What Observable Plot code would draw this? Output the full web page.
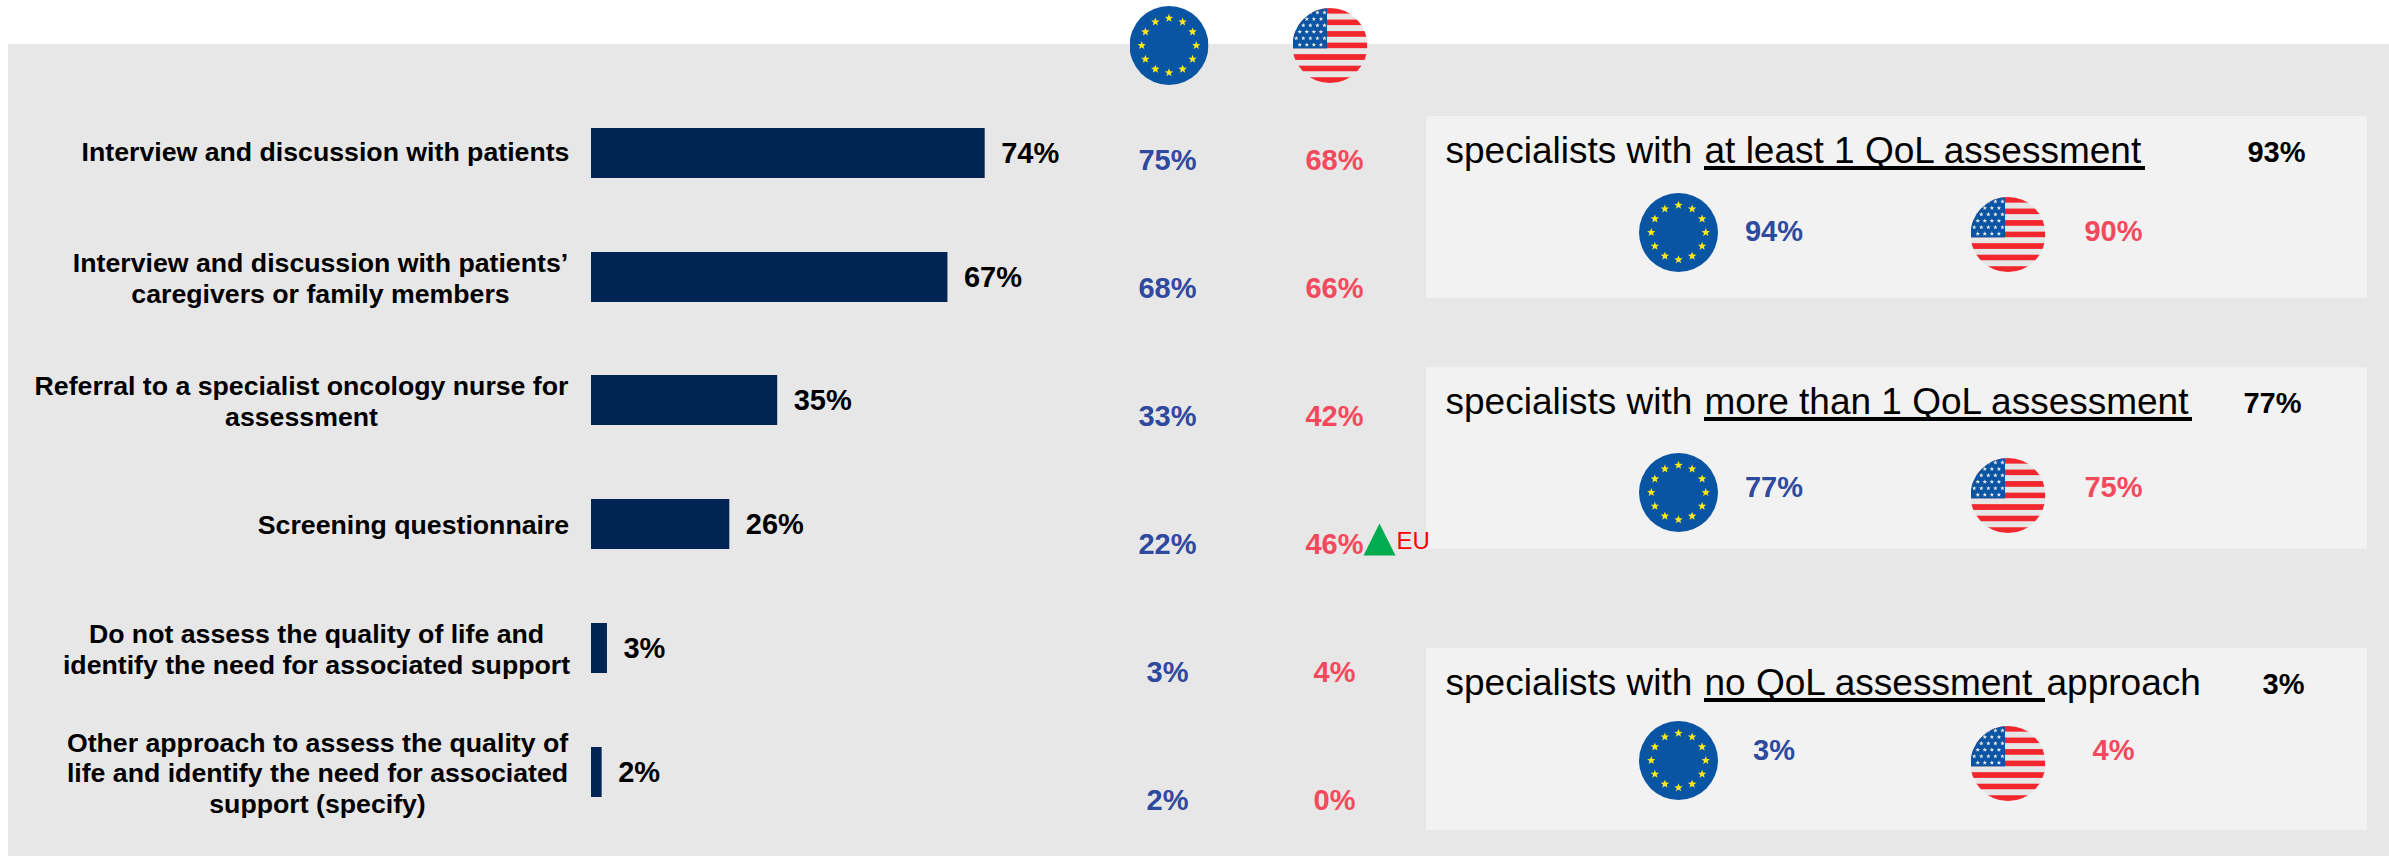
<!DOCTYPE html>
<html><head><meta charset="utf-8">
<script src="https://cdn.jsdelivr.net/npm/d3@7"></script>
<script src="https://cdn.jsdelivr.net/npm/@observablehq/plot@0.6"></script>
<style>html,body{margin:0;padding:0;background:#fff}svg{display:block}</style>
</head><body><div id="chart"></div>
<script>
// ---- data ----
const categories = [
  "Interview and discussion with patients",
  "Interview and discussion with patients’\ncaregivers or family members",
  "Referral to a specialist oncology nurse for\nassessment",
  "Screening questionnaire",
  "Do not assess the quality of life and\nidentify the need for associated support",
  "Other approach to assess the quality of\nlife and identify the need for associated\nsupport (specify)"
];
const overall = [74, 67, 35, 26, 3, 2];
const euValues = [75, 68, 33, 22, 3, 2];
const usValues = [68, 66, 42, 46, 4, 0];
const panelPrefixes = ["specialists with ", "specialists with ", "specialists with "];
const panelEmphasis = ["at least 1 QoL assessment", "more than 1 QoL assessment", "no QoL assessment "];
const panelSuffixes = ["", "", "approach"];
const panelOverall = [93, 77, 3];
const panelEU = [94, 77, 3];
const panelUS = [90, 75, 4];

// ---- layout (pixels, independent of the data) ----
const W = 2389, H = 856;
const pxPerPct = 5.32, barX0 = 591;
const barCenterY = [153, 277, 400, 524, 648, 772];
const barHalf = 25;
const labelCenterX = [325, 320, 301, 413, 316, 317];
const labelY = [151, 277, 400, 524, 648, 772];
const columnX = {eu: 1167, us: 1334};
const columnY = [160, 288, 416, 544, 672, 800];
const panelBox = [[116, 298], [367, 549], [648, 830]];
const panelX = [1426, 2367];
const panelTitleY = [151, 402, 683];
const panelUnder = [[1704, 2145, 166], [1704, 2192, 417], [1704, 2045, 698]];
const panelSuffixX = [0, 0, 2046];
const panelOverallX = [2276, 2272, 2283];
const panelFlagY = [232, 492, 760];
const panelFlagUSY = [234, 495, 763];
const panelFlagEUX = 1678, panelFlagUSX = 2007.5;
const panelEUTextX = 1773.5, panelUSTextX = 2113;
const panelValueY = [231, 487, 750];

// ---- flag pictures ----
function starPath(cx, cy, r) {
  let p = "";
  for (let i = 0; i < 10; i++) {
    const a = -Math.PI / 2 + i * Math.PI / 5, q = i % 2 ? r * 0.42 : r;
    p += (i ? "L" : "M") + (cx + q * Math.cos(a)).toFixed(2) + " " + (cy + q * Math.sin(a)).toFixed(2);
  }
  return p + "Z";
}
function euFlag() {
  let s = "";
  for (let i = 0; i < 12; i++) {
    const a = i * Math.PI / 6;
    s += `<path d="${starPath(50 + 34.5 * Math.cos(a), 50 + 34.5 * Math.sin(a), 5.6)}" fill="#ffe916"/>`;
  }
  return "data:image/svg+xml," + encodeURIComponent(`<svg xmlns="http://www.w3.org/2000/svg" viewBox="0 0 100 100"><circle cx="50" cy="50" r="50" fill="#0a55a3"/>${s}</svg>`);
}
function usFlag() {
  let b = "";
  for (let i = 0; i < 13; i++) {
    b += `<rect x="0" y="${(i * 100 / 13).toFixed(2)}" width="100" height="${(100 / 13 + 0.1).toFixed(2)}" fill="${i % 2 ? "#e6e6e6" : "#f2262d"}"/>`;
  }
  b += `<rect x="0" y="0" width="46" height="${(700 / 13).toFixed(2)}" fill="#0a55a3"/>`;
  for (let r = 0; r < 6; r++) {
    const odd = r % 2, n = odd ? 4 : 5;
    for (let c = 0; c < n; c++) {
      b += `<path d="${starPath(5 + (odd ? 4.7 : 0) + c * 9.4, 6 + r * 8.6, 3.2)}" fill="#e6e6e6"/>`;
    }
  }
  return "data:image/svg+xml," + encodeURIComponent(`<svg xmlns="http://www.w3.org/2000/svg" viewBox="0 0 100 100"><clipPath id="c"><circle cx="50" cy="50" r="50"/></clipPath><g clip-path="url(#c)">${b}</g></svg>`);
}
const EU = euFlag(), US = usFlag();

const rows = categories.map((c, i) => ({c, i, v: overall[i], eu: euValues[i], us: usValues[i]}));
const panels = panelBox.map((b, i) => ({i, y1: b[0], y2: b[1]}));
const pct = (v) => v + "%";
const FONT = "'Liberation Sans', Arial, sans-serif";
const pxX = (f) => ({value: f, scale: null});

const flags = [
  {src: EU, x: 1168.5, y: 45, s: 79},
  {src: US, x: 1329.5, y: 45, s: 75},
  ...panels.flatMap((p) => [
    {src: EU, x: panelFlagEUX, y: panelFlagY[p.i], s: 79},
    {src: US, x: panelFlagUSX, y: panelFlagUSY[p.i], s: 75}
  ])
];
const upTriangle = {draw(c, size) {
  const r = Math.sqrt(size / Math.PI);
  c.moveTo(0, -r); c.lineTo(r, r); c.lineTo(-r, r); c.closePath();
}};

const chart = Plot.plot({
  width: W, height: H,
  marginTop: 0, marginRight: 0, marginBottom: 0, marginLeft: 0,
  style: {background: "#fff", fontFamily: FONT},
  x: {domain: [-barX0 / pxPerPct, (W - barX0) / pxPerPct], range: [0, W], axis: null},
  y: {domain: [0, H], range: [0, H], axis: null},
  marks: [
    // backgrounds
    Plot.rect([0], {x1: pxX(() => 8), x2: pxX(() => W), y1: () => 44, y2: () => H, fill: "#e7e7e7"}),
    Plot.rect(panels, {x1: pxX(() => panelX[0]), x2: pxX(() => panelX[1]), y1: "y1", y2: "y2", fill: "#f2f2f2"}),
    // bars and their labels
    Plot.rectX(rows, {x1: () => 0, x2: "v", y1: (d) => barCenterY[d.i] - barHalf, y2: (d) => barCenterY[d.i] + barHalf, fill: "#002554"}),
    Plot.text(rows, {x: "v", y: (d) => barCenterY[d.i], text: (d) => pct(d.v), dx: 16, textAnchor: "start", fontSize: 29, fontWeight: 700, fill: "#000"}),
    Plot.text(rows, {x: pxX((d) => labelCenterX[d.i]), y: (d) => labelY[d.i], text: "c", textAnchor: "middle", fontSize: 26.7, fontWeight: 700, fill: "#000", lineHeight: 1.15, lineAnchor: "middle"}),
    // EU / US columns
    Plot.text(rows, {x: pxX(() => columnX.eu), y: (d) => columnY[d.i], text: (d) => pct(d.eu), fontSize: 29, fontWeight: 700, fill: "#2e4a9e"}),
    Plot.text(rows, {x: pxX(() => columnX.us), y: (d) => columnY[d.i], text: (d) => pct(d.us), fontSize: 29, fontWeight: 700, fill: "#f4495c"}),
    // significance marker
    Plot.dot([0], {x: pxX(() => 1379), y: () => 539, symbol: upTriangle, r: 16, fill: "#00ac50"}),
    Plot.text(["EU"], {x: pxX(() => 1396), y: () => 541, text: (d) => d, textAnchor: "start", fontSize: 24, fill: "#ff0000"}),
    // panels
    Plot.text(panels, {x: pxX(() => 1445), y: (d) => panelTitleY[d.i], text: (d) => panelPrefixes[d.i], textAnchor: "start", fontSize: 37, fill: "#000"}),
    Plot.text(panels, {x: pxX((d) => panelUnder[d.i][0]), y: (d) => panelTitleY[d.i], text: (d) => panelEmphasis[d.i], textAnchor: "start", fontSize: 37, fill: "#000"}),
    Plot.text(panels, {x: pxX((d) => panelSuffixX[d.i]), y: (d) => panelTitleY[d.i], text: (d) => panelSuffixes[d.i], textAnchor: "start", fontSize: 37, fill: "#000"}),
    Plot.rect(panels, {x1: pxX((d) => panelUnder[d.i][0]), x2: pxX((d) => panelUnder[d.i][1]), y1: (d) => panelUnder[d.i][2], y2: (d) => panelUnder[d.i][2] + 4, fill: "#000"}),
    Plot.text(panels, {x: pxX((d) => panelOverallX[d.i]), y: (d) => panelTitleY[d.i] + 1, text: (d) => pct(panelOverall[d.i]), fontSize: 29, fontWeight: 700, fill: "#000"}),
    Plot.text(panels, {x: pxX(() => panelEUTextX), y: (d) => panelValueY[d.i], text: (d) => pct(panelEU[d.i]), fontSize: 29, fontWeight: 700, fill: "#2e4a9e"}),
    Plot.text(panels, {x: pxX(() => panelUSTextX), y: (d) => panelValueY[d.i], text: (d) => pct(panelUS[d.i]), fontSize: 29, fontWeight: 700, fill: "#f4495c"}),
    // flags
    Plot.image(flags, {x: pxX((d) => d.x), y: "y", src: "src", width: "s", height: "s"})
  ]
});
document.getElementById("chart").append(chart);
</script></body></html>
